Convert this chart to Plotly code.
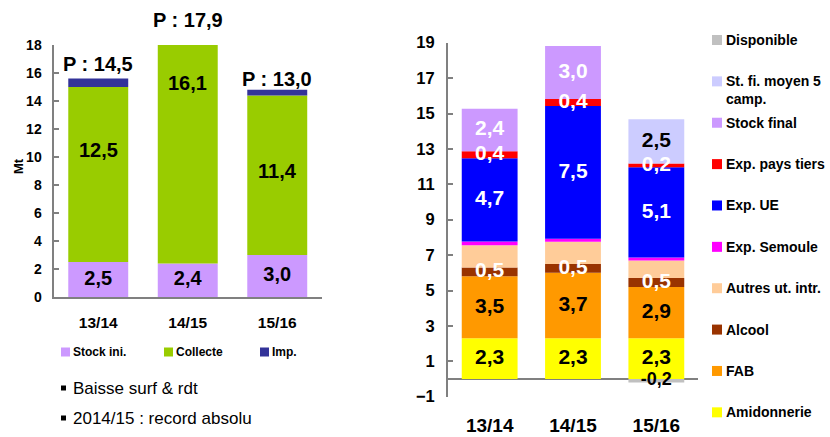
import plotly.graph_objects as go

W, H = 830, 437
FONT = "Liberation Sans, Arial, sans-serif"

# ---------------- data ----------------
seasons = ["13/14", "14/15", "15/16"]

# left chart : resources (Mt)
stock_ini = [2.5, 2.4, 3.0]
collecte = [12.5, 16.1, 11.4]
imports = [0.6, 0.3, 0.4]
production = [14.5, 17.9, 13.0]
left_names = ["Stock ini.", "Collecte", "Imp."]
left_colors = ["#CC99FF", "#99CC00", "#333399"]
left_yticks = [0, 2, 4, 6, 8, 10, 12, 14, 16, 18]

# right chart : uses (Mt), bottom to top
amidonnerie = [2.3, 2.3, 2.3]
fab = [3.5, 3.7, 2.9]
alcool = [0.5, 0.5, 0.5]
autres_ut = [1.25, 1.25, 1.0]
exp_semoule = [0.22, 0.17, 0.17]
exp_ue = [4.7, 7.5, 5.1]
exp_tiers = [0.4, 0.4, 0.2]
stock_final = [2.4, 3.0, None]
st_fi_moyen = [None, None, 2.5]
disponible = [None, None, -0.2]
right_names = ["Amidonnerie", "FAB", "Alcool", "Autres ut. intr.", "Exp. Semoule",
               "Exp. UE", "Exp. pays tiers", "Stock final", "St. fi. moyen 5<br>camp.",
               "Disponible"]
right_colors = ["#FFFF00", "#FF9900", "#993300", "#FFCC99", "#FF00FF",
                "#0000FF", "#FF0000", "#CC99FF", "#CCCCFF", "#C0C0C0"]
right_yticks = [-1, 1, 3, 5, 7, 9, 11, 13, 15, 17, 19]

# bullet notes
notes = ["Baisse surf & rdt", "2014/15 : record absolu"]

# ---------------- styles / positions ----------------
right_values = [amidonnerie, fab, alcool, autres_ut, exp_semoule, exp_ue,
                exp_tiers, stock_final, st_fi_moyen, disponible]
right_label_color = ["black", "black", "white", None, None,
                     "white", "white", "white", "black", "black"]
right_label_size = [21, 21, 21, None, None, 21, 21, 21, 21, 18]
collecte_label_y = [10.5, 15.3, 9.0]
prod_label_y = [16.65, 19.75, 15.6]

LEFT_YDOM_PX = (297, 45)       # pixel rows of y=0 and y=18
LEFT_YRANGE = (0, 18)


def fr(v):
    return f"{v:.1f}".replace(".", ",")


def px(x):
    return x / W


def py(y):
    return 1 - y / H


def left_data_to_paper(v):
    d0, d1 = py(LEFT_YDOM_PX[0]), py(LEFT_YDOM_PX[1])
    r0, r1 = LEFT_YRANGE
    return d0 + (v - r0) / (r1 - r0) * (d1 - d0)


bold = dict(family=FONT, weight="bold")
fig = go.Figure()

# ---- left bars ----
for name, vals, col in zip(left_names, [stock_ini, collecte, imports], left_colors):
    fig.add_trace(go.Bar(x=seasons, y=vals, name=name, marker=dict(color=col, line=dict(width=0)),
                         xaxis="x", yaxis="y", showlegend=False, hoverinfo="skip"))

fig.add_trace(go.Scatter(x=seasons, y=[v / 2 for v in stock_ini], mode="text",
                         text=[fr(v) for v in stock_ini], textposition="middle center",
                         textfont=dict(size=20, color="black", **bold),
                         xaxis="x", yaxis="y", showlegend=False, hoverinfo="skip", cliponaxis=False))

shapes = []
annotations = []

for s, v, ly in zip(seasons, collecte, collecte_label_y):
    annotations.append(dict(xref="x", yref="paper", x=s, y=left_data_to_paper(ly), text=fr(v),
                            showarrow=False, xanchor="center", yanchor="middle",
                            font=dict(size=20, color="black", **bold)))
for s, v, ly in zip(seasons, production, prod_label_y):
    annotations.append(dict(xref="x", yref="paper", x=s, y=left_data_to_paper(ly),
                            text="P : " + fr(v), showarrow=False, xanchor="center",
                            yanchor="middle", font=dict(size=20, color="black", **bold)))

# ---- right bars ----
for name, vals, col in zip(right_names, right_values, right_colors):
    fig.add_trace(go.Bar(x=seasons, y=vals, name=name, marker=dict(color=col, line=dict(width=0)),
                         xaxis="x2", yaxis="y2", showlegend=False, hoverinfo="skip"))

# labels at segment centres
pos_base = [0.0, 0.0, 0.0]
for vals, lc, ls in zip(right_values, right_label_color, right_label_size):
    xs, ys, ts = [], [], []
    for i, v in enumerate(vals):
        if v is None:
            continue
        if v >= 0:
            c = pos_base[i] + v / 2
            pos_base[i] += v
        else:
            c = v / 2
        if lc is not None:
            xs.append(seasons[i]); ys.append(c); ts.append(fr(v))
    if lc is not None and xs:
        fig.add_trace(go.Scatter(x=xs, y=ys, mode="text", text=ts, textposition="middle center",
                                 textfont=dict(size=ls, color=lc, **bold),
                                 xaxis="x2", yaxis="y2", showlegend=False, hoverinfo="skip",
                                 cliponaxis=False))

# left legend (horizontal)
left_leg_x = [61, 164, 260]
for name, col, lx in zip(left_names, left_colors, left_leg_x):
    shapes.append(dict(type="rect", xref="paper", yref="paper", x0=px(lx), x1=px(lx + 9),
                       y0=py(356.5), y1=py(347.5), fillcolor=col, line=dict(width=0)))
    annotations.append(dict(xref="paper", yref="paper", x=px(lx + 10), y=py(352), text=name,
                            showarrow=False, xanchor="left", yanchor="middle",
                            font=dict(size=12, color="black", **bold)))

# right legend (vertical, top to bottom)
top_y, step = 40, 41.37
for k, (name, col) in enumerate(zip(right_names[::-1], right_colors[::-1])):
    yc = top_y + k * step
    shapes.append(dict(type="rect", xref="paper", yref="paper", x0=px(712), x1=px(722),
                       y0=py(yc + 5), y1=py(yc - 5), fillcolor=col, line=dict(width=0)))
    nlines = name.count("<br>") + 1
    annotations.append(dict(xref="paper", yref="paper", x=px(724), y=py(yc + (nlines - 1) * 8.7),
                            text=name, showarrow=False, xanchor="left", yanchor="middle",
                            align="left", font=dict(size=14, color="black", **bold)))

# bullet notes
for k, note in enumerate(notes):
    yc = 388 + k * 30
    shapes.append(dict(type="rect", xref="paper", yref="paper", x0=px(61), x1=px(66),
                       y0=py(yc + 2.5), y1=py(yc - 2.5), fillcolor="black", line=dict(width=0)))
    annotations.append(dict(xref="paper", yref="paper", x=px(71), y=py(yc), text=note,
                            showarrow=False, xanchor="left", yanchor="middle",
                            font=dict(size=17, color="black", family=FONT)))

# y title "Mt"
annotations.append(dict(xref="paper", yref="paper", x=px(18), y=py(166), text="Mt", textangle=-90,
                        showarrow=False, xanchor="center", yanchor="middle",
                        font=dict(size=13, color="black", **bold)))

AX = "#808080"
fig.update_layout(
    template="none",
    width=W, height=H, margin=dict(l=0, r=0, t=0, b=0, pad=0, autoexpand=False),
    paper_bgcolor="white", plot_bgcolor="white",
    barmode="relative", bargap=0.33, showlegend=False,
    font=dict(family=FONT, color="black"),
    xaxis=dict(domain=[px(53.5), px(322)], anchor="y", showline=True, linecolor=AX, linewidth=2,
               ticks="", showgrid=False, tickfont=dict(size=15.5, **bold), ticklabelstandoff=10,
               automargin=False, fixedrange=True),
    yaxis=dict(domain=[py(LEFT_YDOM_PX[0]), py(LEFT_YDOM_PX[1])], anchor="x", range=list(LEFT_YRANGE),
               tickvals=left_yticks,
               showline=True, linecolor=AX, linewidth=2, ticks="inside", ticklen=5,
               tickcolor=AX, tickwidth=2, showgrid=False, zeroline=False,
               tickfont=dict(size=14, **bold), ticklabelstandoff=7, automargin=False),
    xaxis2=dict(domain=[px(448), px(698)], anchor="y2", showline=False, ticks="", showgrid=False,
                tickfont=dict(size=19, **bold), ticklabelstandoff=15, automargin=False),
    yaxis2=dict(domain=[py(396.7), py(42.7)], anchor="x2", range=[-1, 19], tickvals=right_yticks,
                showline=True, linecolor=AX, linewidth=2, ticks="inside", ticklen=5,
                tickcolor=AX, tickwidth=2, showgrid=False, zeroline=True, zerolinecolor=AX,
                zerolinewidth=2, tickfont=dict(size=16.5, **bold), ticklabelstandoff=8,
                automargin=False),
    shapes=shapes, annotations=annotations,
)

fig.write_html("out.html", config={"displayModeBar": False},
               post_script="document.body.style.margin='0';")
